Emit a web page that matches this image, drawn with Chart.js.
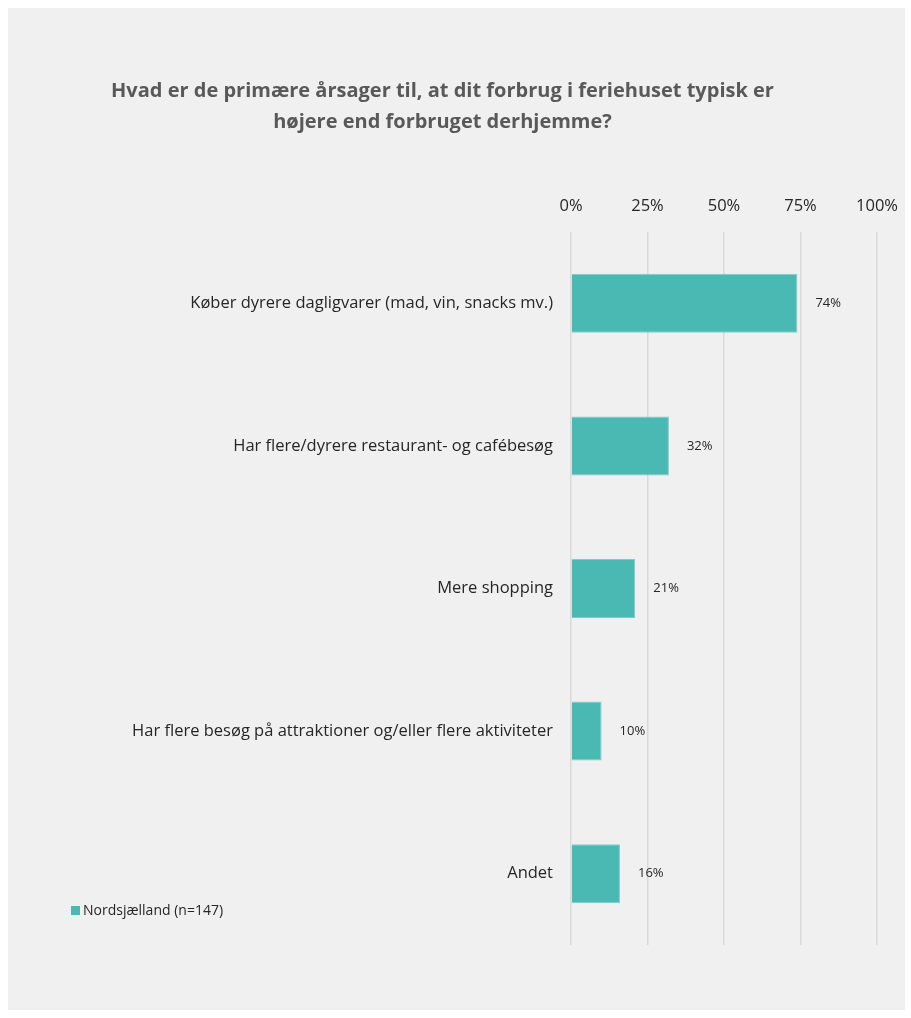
<!DOCTYPE html>
<html lang="da">
<head>
<meta charset="utf-8">
<title>Forbrug i feriehuset</title>
<script src="https://cdn.jsdelivr.net/npm/chart.js@4"></script>
<style>
  html,body{margin:0;padding:0;background:#fff;}
  .box{position:absolute;left:8px;top:8px;width:897px;height:1002px;background:#f0f0f0;}
  .box canvas{display:block;}
</style>
</head>
<body>
<div class="box"><canvas id="chart"></canvas></div>
<script>
/* data */
const titleLines = ['Hvad er de primære årsager til, at dit forbrug i feriehuset typisk er', 'højere end forbruget derhjemme?'];
const categories = [
  'Køber dyrere dagligvarer (mad, vin, snacks mv.)',
  'Har flere/dyrere restaurant- og cafébesøg',
  'Mere shopping',
  'Har flere besøg på attraktioner og/eller flere aktiviteter',
  'Andet'
];
const seriesName = 'Nordsjælland (n=147)';
const values = [74, 32, 21, 10, 16];
const xTicks = [0, 25, 50, 75, 100];

const FONT = "'Open Sans', 'Noto Sans', sans-serif";
const BAR = '#4ab9b3';

/* value labels right of each bar */
const valueLabels = {
  id:'valueLabels',
  afterDatasetsDraw(chart){
    const ctx = chart.ctx;
    const meta = chart.getDatasetMeta(0);
    ctx.save();
    ctx.font = '13px ' + FONT;
    ctx.fillStyle = '#262626';
    ctx.textAlign = 'left';
    ctx.textBaseline = 'middle';
    meta.data.forEach((bar,i)=>{
      ctx.fillText(chart.data.datasets[0].data[i] + '%', bar.x + 18, bar.y);
    });
    ctx.restore();
  }
};

/* legend sits bottom-left, inside the box */
const cornerLegend = {
  id:'cornerLegend',
  afterDraw(chart){
    const ctx = chart.ctx;
    const ds = chart.data.datasets[0];
    const x = 63, y = 903;
    ctx.save();
    ctx.fillStyle = ds.backgroundColor;
    ctx.fillRect(x, y - 5, 9, 9);
    ctx.font = '14px ' + FONT;
    ctx.fillStyle = '#262626';
    ctx.textAlign = 'left';
    ctx.textBaseline = 'middle';
    ctx.fillText(ds.label, x + 12, y);
    ctx.restore();
  }
};

new Chart(document.getElementById('chart'), {
  type:'bar',
  data:{
    labels:categories,
    datasets:[{
      label:seriesName,
      data:values,
      backgroundColor:BAR,
      borderColor:'#7ccdc8',
      borderWidth:1,
      categoryPercentage:1,
      barPercentage:0.414
    }]
  },
  options:{
    indexAxis:'y',
    responsive:true,
    maintainAspectRatio:false,
    animation:false,
    layout:{padding:{left:0,right:28,top:68,bottom:65}},
    plugins:{
      legend:{display:false},
      tooltip:{enabled:false},
      title:{
        display:true,
        text:titleLines,
        color:'#595959',
        font:{family:FONT,size:20,weight:'bold',lineHeight:1.55},
        padding:{top:0,bottom:0}
      }
    },
    scales:{
      x:{
        position:'top',
        min:0,max:100,
        afterBuildTicks(scale){ scale.ticks = xTicks.map(v=>({value:v})); },
        afterFit(scale){ scale.height = 94; scale.paddingRight = 0; scale.paddingLeft = 0; },
        ticks:{
          padding:16,
          color:'#262626',
          font:{family:FONT,size:16.5},
          callback:v=>v + '%'
        },
        grid:{color:'#d9d9d9',lineWidth:1.5,drawTicks:false},
        border:{display:false}
      },
      y:{
        afterFit(scale){ scale.width = 563; },
        ticks:{
          padding:18,
          color:'#262626',
          font:{family:FONT,size:16.5}
        },
        grid:{display:false,drawTicks:false},
        border:{display:false}
      }
    }
  },
  plugins:[valueLabels, cornerLegend]
});
</script>
</body>
</html>
